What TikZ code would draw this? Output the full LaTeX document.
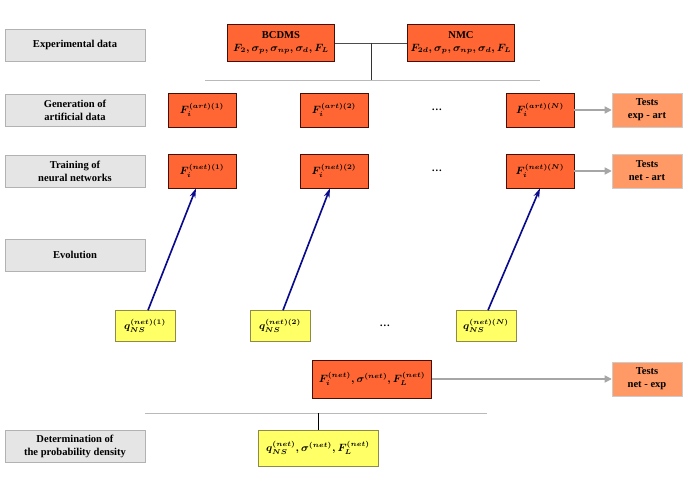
\documentclass[tikz,border=0pt]{standalone}
\usepackage{fontspec}
\setmainfont{Liberation Serif}
\usetikzlibrary{arrows.meta, calc}
\definecolor{oranyebox}{RGB}{255,102,51}
\definecolor{oranyetes}{RGB}{255,153,102}
\definecolor{kuningbox}{RGB}{255,255,102}
\definecolor{birulaju}{RGB}{10,10,140}
\definecolor{tepibox}{RGB}{70,15,5}

\begin{document}
\begin{tikzpicture}[x=0.03cm, y=-0.03cm, font=\bfseries\boldmath\small,
    labelbox/.style={fill=gray!20, draw=gray!60, minimum width=4.2cm, minimum height=0.96cm, align=center, inner sep=1pt},
    databox/.style={fill=oranyebox, draw=tepibox, line width=0.8pt, minimum width=3.21cm, minimum height=1.11cm, align=center, inner sep=1pt},
    stepbox/.style={fill=oranyebox, draw=tepibox, line width=0.6pt, minimum width=2.04cm, minimum height=1.02cm},
    testbox/.style={fill=oranyetes, draw=gray!40, minimum width=2.1cm, minimum height=1.02cm, align=center, inner sep=1pt},
    qbox/.style={fill=kuningbox, draw=gray!50!olive, minimum width=1.8cm, minimum height=0.93cm},
    testarrow/.style={draw=gray!70, line width=1.2pt, -{Triangle[length=6pt,width=6pt]}},
    evoarrow/.style={draw=birulaju, line width=1.4pt, -{Stealth[length=8pt,width=5pt]}}]
                \useasboundingbox (0,0) rectangle (698,488);
                % left column
                \node[labelbox] (lexp) at (75,45) {Experimental data};
                \node[labelbox] (lgen) at (75,110) {Generation of\\artificial data};
                \node[labelbox] (ltrain) at (75,171) {Training of\\neural networks};
                \node[labelbox] (levo) at (75,255) {Evolution};
                \node[labelbox] (ldet) at (75,446) {Determination of\\the probability density};
                % data
                \node[databox] (bcdms) at (281,43) {BCDMS\\$F_2, \sigma_p, \sigma_{np}, \sigma_d, F_L$};
                \node[databox] (nmc) at (461,43) {NMC\\$F_{2d}, \sigma_p, \sigma_{np}, \sigma_d, F_L$};
                \coordinate (joint) at (371,43);
                \coordinate (split) at (371,80);
                \coordinate (splitl) at (205,80);
                \coordinate (splitr) at (540,80);
                \draw[black!70, line width=0.8pt] (bcdms) -- (nmc);
                \draw[black!80, line width=0.8pt] (joint) -- (split);
                \draw[gray!55, line width=0.8pt] (splitl) -- (splitr);
                % replicas
                \node[stepbox] (art1) at (202,110) {$F_i^{(art)(1)}$};
                \node[stepbox] (art2) at (334,110) {$F_i^{(art)(2)}$};
                \node (dotsart) at (437,110) {\dots};
                \node[stepbox] (art3) at (540,110) {$F_i^{(art)(N)}$};
                \node[testbox] (tart) at (647,110) {Tests\\exp - art};
                \draw[testarrow] (art3) -- (tart);
                \node[stepbox] (net1) at (202,171) {$F_i^{(net)(1)}$};
                \node[stepbox] (net2) at (334,171) {$F_i^{(net)(2)}$};
                \node (dotsnet) at (437,171) {\dots};
                \node[stepbox] (net3) at (540,171) {$F_i^{(net)(N)}$};
                \node[testbox] (tnet) at (647,171) {Tests\\net - art};
                \draw[testarrow] (net3) -- (tnet);
                % evolution
                \node[qbox] (q1) at (145,326) {$q_{NS}^{(net)(1)}$};
                \node[qbox] (q2) at (280,326) {$q_{NS}^{(net)(2)}$};
                \node (dotsq) at (385,326) {\dots};
                \node[qbox] (q3) at (486,326) {$q_{NS}^{(net)(N)}$};
                \draw[evoarrow] ($(q1.north)+(3,0)$) -- ($(net1.south)+(-6,0)$);
                \draw[evoarrow] ($(q2.north)+(3,0)$) -- ($(net2.south)+(-4,0)$);
                \draw[evoarrow] ($(q3.north)+(2,0)$) -- ($(net3.south)+(0,0)$);
                % result
                \node[databox, minimum width=3.57cm, minimum height=1.14cm] (fsum) at (372,379) {$F_i^{(net)}, \sigma^{(net)}, F_L^{(net)}$};
                \node[testbox] (texp) at (647,379) {Tests\\net - exp};
                \draw[testarrow] (fsum) -- (texp);
                \coordinate (cutl) at (145,413);
                \coordinate (cutr) at (487,413);
                \coordinate (cut) at (318,413);
                \draw[gray!55, line width=0.8pt] (cutl) -- (cutr);
                \node[qbox, minimum width=3.6cm, minimum height=1.08cm] (qfin) at (318,448) {$q_{NS}^{(net)}, \sigma^{(net)}, F_L^{(net)}$};
                \draw[black, line width=0.8pt] (cut) -- (qfin);
            \end{tikzpicture}
\end{document}
